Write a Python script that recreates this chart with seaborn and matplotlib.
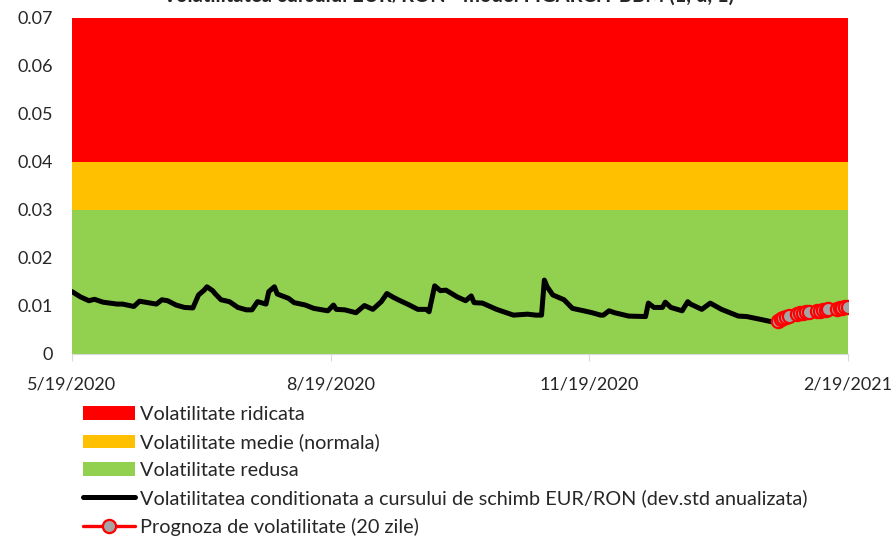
import numpy as np
import pandas as pd
import matplotlib
matplotlib.use("Agg")
import matplotlib.pyplot as plt
from matplotlib.patches import Patch
from matplotlib.lines import Line2D
import seaborn as sns

# conditional volatility
vol_dates = ["2020-05-19", "2020-05-22", "2020-05-25", "2020-05-27", "2020-05-30",
             "2020-06-04", "2020-06-06", "2020-06-10", "2020-06-12", "2020-06-15",
             "2020-06-18", "2020-06-20", "2020-06-22", "2020-06-25", "2020-06-28",
             "2020-07-01", "2020-07-03", "2020-07-05", "2020-07-06", "2020-07-08",
             "2020-07-09", "2020-07-11", "2020-07-14", "2020-07-17", "2020-07-20",
             "2020-07-22", "2020-07-24", "2020-07-27", "2020-07-28", "2020-07-30",
             "2020-07-31", "2020-08-04", "2020-08-06", "2020-08-10", "2020-08-13",
             "2020-08-18", "2020-08-20", "2020-08-21", "2020-08-24", "2020-08-28",
             "2020-08-31", "2020-09-03", "2020-09-06", "2020-09-08", "2020-09-10",
             "2020-09-12", "2020-09-16", "2020-09-19", "2020-09-22", "2020-09-23",
             "2020-09-25", "2020-09-27", "2020-09-29", "2020-10-01", "2020-10-03",
             "2020-10-06", "2020-10-08", "2020-10-09", "2020-10-12", "2020-10-17",
             "2020-10-23", "2020-10-28", "2020-10-31", "2020-11-02", "2020-11-03",
             "2020-11-04", "2020-11-06", "2020-11-10", "2020-11-13", "2020-11-17",
             "2020-11-20", "2020-11-23", "2020-11-24", "2020-11-26", "2020-11-28",
             "2020-12-03", "2020-12-09", "2020-12-10", "2020-12-12", "2020-12-15",
             "2020-12-16", "2020-12-18", "2020-12-22", "2020-12-24", "2020-12-25",
             "2020-12-29", "2021-01-01", "2021-01-05", "2021-01-11", "2021-01-14",
             "2021-01-19", "2021-01-23"]
vol_values = [0.0130, 0.0119, 0.0111, 0.0114, 0.0108,
              0.0104, 0.0104, 0.0099, 0.0110, 0.0107,
              0.0104, 0.0113, 0.0111, 0.0102, 0.0097,
              0.0096, 0.0123, 0.0133, 0.0140, 0.0132,
              0.0125, 0.0113, 0.0109, 0.0097, 0.0092,
              0.0092, 0.0109, 0.0104, 0.0130, 0.0140,
              0.0125, 0.0116, 0.0107, 0.0102, 0.0095,
              0.0090, 0.0102, 0.0093, 0.0092, 0.0086,
              0.0101, 0.0093, 0.0109, 0.0126, 0.0119,
              0.0113, 0.0102, 0.0093, 0.0093, 0.0088,
              0.0142, 0.0132, 0.0133, 0.0126, 0.0119,
              0.0111, 0.0121, 0.0107, 0.0106, 0.0093,
              0.0081, 0.0083, 0.0081, 0.0081, 0.0154,
              0.0140, 0.0123, 0.0113, 0.0095, 0.0090,
              0.0086, 0.0081, 0.0081, 0.0090, 0.0086,
              0.0079, 0.0078, 0.0106, 0.0097, 0.0097,
              0.0108, 0.0097, 0.0090, 0.0109, 0.0104,
              0.0093, 0.0106, 0.0093, 0.0079, 0.0078,
              0.0072, 0.0067]

# 20-day forecast
fc_dates = ["2021-01-25", "2021-01-26", "2021-01-27", "2021-01-28", "2021-01-29",
            "2021-02-01", "2021-02-02", "2021-02-03", "2021-02-04", "2021-02-05",
            "2021-02-08", "2021-02-09", "2021-02-10", "2021-02-11", "2021-02-12",
            "2021-02-15", "2021-02-16", "2021-02-17", "2021-02-18", "2021-02-19"]
fc_values = [0.0069, 0.0073, 0.0076, 0.0078, 0.0080,
             0.0083, 0.0085, 0.0086, 0.0087, 0.0088,
             0.0089, 0.0090, 0.0091, 0.0092, 0.0093,
             0.0094, 0.0095, 0.0096, 0.0097, 0.0098]

# volatility zones
zone_names = ["Volatilitate ridicata", "Volatilitate medie (normala)", "Volatilitate redusa"]
zone_low = [0.04, 0.03, 0.0]
zone_high = [0.07, 0.04, 0.03]
zone_colors = ["#FF0000", "#FFC000", "#92D050"]

tick_dates = ["2020-05-19", "2020-08-19", "2020-11-19", "2021-02-19"]
y_ticks = [0, 0.01, 0.02, 0.03, 0.04, 0.05, 0.06, 0.07]

sns.set_style("white")
plt.rcParams['font.family'] = ['Lato', 'DejaVu Sans']

vol = pd.DataFrame({"date": pd.to_datetime(vol_dates), "v": vol_values})
fc = pd.DataFrame({"date": pd.to_datetime(fc_dates), "v": fc_values})
ticks = pd.to_datetime(tick_dates)

fig = plt.figure(figsize=(8.96, 5.38), dpi=100)
ax = fig.add_axes([72/896, 1-354/538, 776/896, 336/538])

span = pd.to_datetime([tick_dates[0], tick_dates[-1]])
for lo, hi, c in zip(zone_low, zone_high, zone_colors):
    ax.fill_between(span, lo, hi, color=c, linewidth=0, zorder=1)

sns.lineplot(data=vol, x="date", y="v", ax=ax, color="black", linewidth=3.6, zorder=3)
sns.lineplot(data=fc, x="date", y="v", ax=ax, color="#FF0000", linewidth=2.4,
             marker="o", markersize=9.5, markerfacecolor="#A5A5A5",
             markeredgecolor="#FF0000", markeredgewidth=1.6, zorder=4)

ax.set_xlim(span[0], span[1])
ax.set_ylim(0, 0.07)
ax.set_yticks(y_ticks)
ax.set_yticklabels(["0"] + [f"{t:.2f}" for t in y_ticks[1:]])
ax.set_xticks(ticks)
ax.set_xticklabels([f"{d.month}/{d.day}/{d.year}" for d in ticks])
ax.set_xlabel("")
ax.set_ylabel("")
for s in ["top", "right", "left"]:
    ax.spines[s].set_visible(False)
ax.spines["bottom"].set_color("#D9D9D9")
ax.spines["bottom"].set_zorder(5)
ax.tick_params(axis="x", bottom=True, length=5, color="#D9D9D9", labelsize=13, pad=11)
ax.tick_params(axis="y", left=False, labelsize=13, pad=10)

fig.text(0.5, 1 - 2/538, "Volatilitatea cursului EUR/RON - model FIGARCH-BBM (1, d, 1)",
         ha="center", va="baseline", fontsize=14.5, fontweight="bold")

handles = [Patch(facecolor=c, edgecolor="none") for c in zone_colors]
handles.append(Line2D([], [], color="black", linewidth=3.6))
handles.append(Line2D([], [], color="#FF0000", linewidth=2.4, marker="o", markersize=9.5,
                      markerfacecolor="#A5A5A5", markeredgecolor="#FF0000", markeredgewidth=1.6))
labels = zone_names + ["Volatilitatea conditionata a cursului de schimb EUR/RON (dev.std anualizata)",
                       "Prognoza de volatilitate (20 zile)"]
fig.legend(handles, labels, loc="upper left", bbox_to_anchor=(83/896, 1 - 406/538),
           frameon=False, fontsize=14.3, handlelength=2.62, handletextpad=0.25,
           labelspacing=0.53, borderaxespad=0, borderpad=0)

fig.savefig("out.png", dpi=100)
